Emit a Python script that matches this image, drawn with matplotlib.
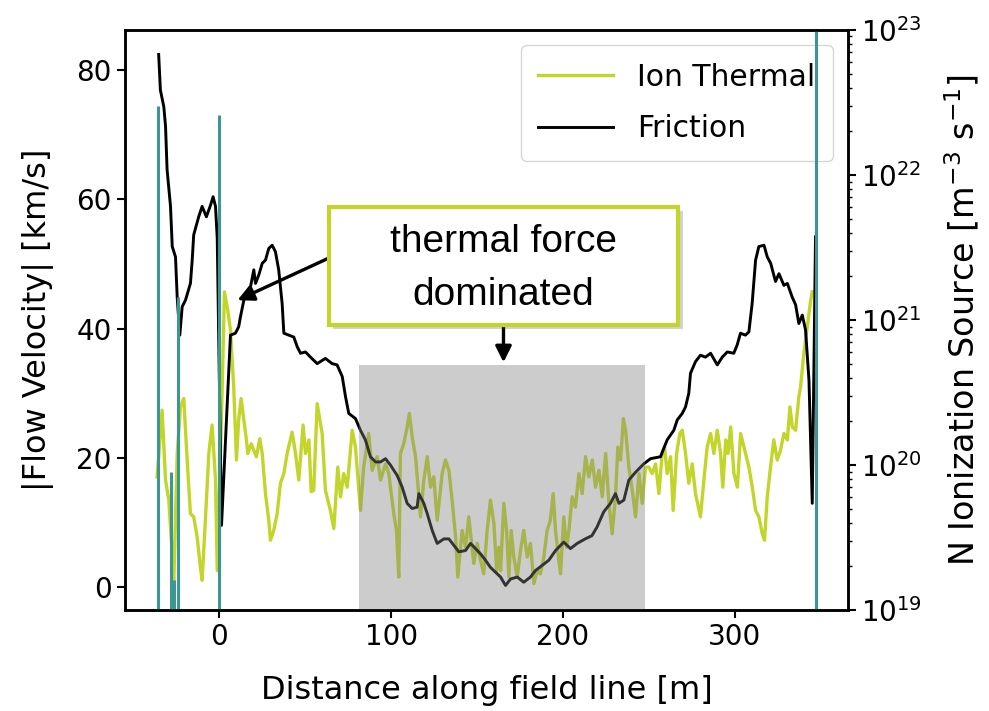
import matplotlib
matplotlib.use('Agg')
import matplotlib.pyplot as plt
import matplotlib.patheffects as pe
from matplotlib.patches import Rectangle

# Ion thermal flow velocity [km/s] vs distance [m]
ion_x = [-36.3, -33.4, -31.4, -29.5, -27.5, -26.6, -24.6, -22.7, -20.8, -18.8,
         -16.9, -15.0, -13.0, -11.1, -10.1, -8.2, -6.2, -4.3, -2.3, -1.3,
         1.6, 2.9, 4.8, 6.4, 8.3, 9.9, 11.2, 12.6, 14.2, 15.7,
         16.5, 18.5, 20.0, 21.5, 23.5, 24.9, 26.8, 28.7, 29.7, 31.6,
         33.6, 35.5, 37.5, 39.4, 42.3, 44.3, 46.2, 48.7, 50.1, 52.1,
         53.4, 54.9, 56.9, 59.8, 61.7, 64.6, 66.6, 68.9, 70.5, 72.4,
         74.4, 77.3, 79.2, 82.1, 84.0, 86.9, 88.9, 91.8, 93.8, 96.7,
         98.6, 101.5, 103.1, 104.4, 105.4, 107.3, 109.3, 110.6, 112.2, 114.2,
         115.5, 117.1, 119.0, 121.0, 122.9, 124.8, 126.8, 129.7, 131.6, 133.6,
         135.5, 137.5, 138.8, 141.3, 143.3, 145.2, 148.1, 150.1, 152.0, 153.9,
         155.9, 157.8, 159.8, 161.4, 162.7, 163.7, 165.6, 167.2, 168.5, 169.9,
         171.4, 173.4, 175.3, 177.2, 179.2, 181.1, 183.1, 185.0, 186.9, 188.9,
         190.8, 192.7, 194.3, 195.7, 197.6, 198.6, 200.5, 202.1, 203.5, 205.4,
         207.3, 209.3, 211.2, 213.2, 215.1, 217.1, 219.0, 221.0, 222.9, 224.9,
         226.8, 228.7, 230.6, 232.0, 233.6, 235.2, 236.5, 238.4, 240.4, 242.3,
         244.3, 246.2, 248.1, 250.0, 252.0, 254.0, 255.9, 257.8, 259.2, 260.7,
         262.7, 264.2, 266.2, 268.1, 269.5, 271.4, 273.3, 275.3, 277.2, 280.1,
         282.1, 284.0, 286.0, 287.9, 289.9, 291.8, 293.1, 294.8, 296.2, 297.7,
         299.6, 301.6, 303.5, 306.4, 308.3, 310.3, 312.2, 314.1, 316.1, 317.4,
         319.0, 320.9, 322.8, 324.8, 326.7, 328.7, 330.7, 332.2, 333.6, 335.5,
         337.4, 338.4, 340.3, 342.3, 344.3, 345.2]
ion_v = [17.1, 27.4, 16.6, 13.5, 5.2, 0.6, 20.7, 27.9, 29.2, 19.7,
         11.4, 10.9, 7.8, 3.1, 1.1, 10.4, 20.7, 25.1, 16.6, 2.6,
         31.0, 45.7, 42.9, 39.8, 31.0, 19.7, 25.9, 29.2, 25.9, 22.8,
         20.7, 22.2, 21.2, 20.2, 23.0, 20.7, 14.5, 10.4, 7.3, 8.8,
         11.4, 16.1, 17.6, 20.7, 24.0, 20.7, 16.6, 25.1, 20.7, 22.8,
         14.8, 15.0, 28.4, 23.8, 15.0, 11.9, 9.1, 18.6, 14.0, 17.6,
         15.5, 24.3, 21.7, 11.9, 18.6, 23.8, 18.1, 20.2, 16.6, 19.1,
         17.6, 11.4, 8.8, 1.6, 20.7, 22.2, 24.8, 26.9, 23.3, 20.2,
         16.1, 10.9, 16.6, 20.2, 15.5, 17.1, 10.4, 17.6, 19.7, 18.1,
         13.5, 7.8, 1.6, 8.8, 6.2, 10.9, 3.7, 6.8, 4.2, 2.1,
         8.8, 13.5, 9.9, 2.6, 6.2, 2.6, 13.0, 8.8, 1.6, 8.8,
         4.7, 1.6, 5.7, 8.8, 4.7, 6.8, 0.6, 2.6, 2.1, 4.7,
         8.8, 10.4, 14.5, 8.8, 4.2, 2.1, 10.9, 6.2, 8.8, 14.0,
         12.4, 17.6, 14.5, 20.2, 17.1, 19.7, 15.5, 18.1, 14.0, 20.7,
         13.0, 8.3, 14.0, 21.7, 19.7, 26.1, 24.3, 18.6, 15.0, 10.9,
         17.6, 13.0, 18.6, 18.6, 17.6, 19.1, 14.5, 20.7, 21.7, 17.6,
         20.2, 11.9, 20.7, 23.8, 24.3, 20.7, 16.1, 19.1, 14.5, 10.9,
         16.6, 21.7, 23.8, 20.7, 24.3, 20.7, 15.5, 22.8, 20.7, 24.8,
         17.6, 15.5, 23.8, 20.7, 18.6, 15.5, 11.9, 10.9, 8.3, 7.3,
         14.0, 18.6, 22.8, 19.7, 21.2, 23.8, 22.8, 27.9, 24.8, 24.3,
         29.5, 31.0, 36.2, 40.3, 44.4, 45.7]

# Friction flow velocity [km/s] vs distance [m]
fric_x = [-35.4, -34.4, -32.4, -31.4, -30.5, -28.5, -27.5, -25.6, -24.6, -23.1,
          -21.7, -19.8, -16.9, -15.9, -15.0, -12.1, -10.1, -7.6, -5.2, -3.7,
          -2.3, -1.3, 1.2, 6.4, 9.3, 11.2, 12.2, 14.2, 16.1, 18.1,
          20.0, 21.0, 22.9, 24.9, 26.8, 28.7, 30.7, 32.6, 34.5, 36.5,
          37.5, 40.4, 43.3, 45.3, 47.2, 50.1, 53.0, 56.9, 61.7, 65.6,
          68.5, 71.5, 73.4, 75.3, 79.2, 82.1, 85.0, 87.9, 90.9, 93.8,
          96.7, 99.6, 103.5, 106.4, 109.3, 112.2, 115.1, 116.1, 119.0, 121.0,
          123.9, 126.8, 130.7, 133.6, 136.5, 139.4, 143.3, 146.2, 149.1, 152.0,
          154.9, 157.8, 163.7, 166.6, 169.5, 173.4, 177.2, 181.1, 184.0, 187.9,
          191.8, 195.7, 200.5, 204.4, 208.3, 213.0, 216.9, 219.8, 223.8, 227.7,
          230.6, 232.6, 235.5, 238.4, 242.3, 247.1, 251.0, 256.8, 260.7, 264.6,
          266.6, 269.5, 271.4, 273.3, 274.3, 277.2, 280.1, 283.0, 286.0, 289.9,
          292.8, 295.7, 299.5, 301.5, 303.4, 306.3, 308.3, 310.2, 312.2, 314.1,
          317.1, 319.0, 321.0, 323.8, 325.8, 328.7, 330.7, 333.5, 335.5, 337.4,
          339.4, 341.3, 343.3, 345.2, 347.1]
fric_v = [82.4, 76.9, 74.3, 71.3, 64.6, 58.9, 52.7, 51.1, 44.8, 39.0,
          43.4, 44.4, 47.0, 50.5, 54.5, 57.3, 58.9, 57.3, 59.1, 60.4,
          58.9, 54.0, 9.6, 39.0, 39.3, 40.3, 41.8, 44.4, 45.5, 46.5,
          49.1, 47.0, 48.3, 50.1, 50.6, 52.4, 52.9, 51.9, 49.1, 43.9,
          39.3, 39.0, 38.7, 37.2, 36.2, 36.4, 35.6, 34.6, 35.4, 34.6,
          34.4, 32.6, 29.5, 26.9, 26.1, 24.3, 22.8, 20.2, 19.4, 19.4,
          19.9, 18.9, 17.3, 15.5, 13.0, 12.2, 12.4, 14.5, 13.0, 11.4,
          8.8, 6.8, 7.5, 7.5, 6.5, 5.5, 5.7, 6.8, 6.0, 5.2,
          4.2, 3.1, 1.6, 0.3, 1.3, 1.6, 0.8, 1.6, 2.6, 3.4,
          4.2, 5.7, 7.0, 6.0, 6.8, 7.5, 8.0, 9.3, 11.7, 13.0,
          14.5, 13.0, 13.5, 16.6, 17.8, 19.1, 19.9, 20.2, 22.8, 24.3,
          25.9, 26.9, 27.9, 30.0, 33.1, 34.9, 35.9, 35.6, 36.2, 34.4,
          35.6, 36.4, 36.2, 37.5, 39.3, 39.0, 39.5, 43.9, 50.6, 52.7,
          52.9, 51.1, 50.1, 47.3, 48.5, 46.7, 47.0, 44.9, 43.7, 40.8,
          42.1, 39.8, 32.0, 13.0, 54.2]

# N ionization source spikes [m^-3 s^-1]
src_x = [-35.5, -28.5, -26.6, -24.3, -0.4, 347.1]
src_v = [3.0e22, 9.0e19, 1.6e19, 1.45e21, 2.6e22, 2.0e23]

# shaded region and annotation (data coordinates)
shade_x = [81.5, 248.0]
shade_top = 34.4
note_text = 'thermal force\ndominated'
note_box = [63.5, 40.6, 267.3, 58.8]   # x0, y0, x1, y1

lime = '#c2d52b'
teal = '#3d9690'

plt.rcParams['font.family'] = ['DejaVu Sans']
fig = plt.figure(figsize=(9.89, 7.11), dpi=100)
ax = fig.add_axes([0.1264, 0.142, 0.731, 0.816])
ax2 = ax.twinx()

ax.plot(ion_x, ion_v, color=lime, lw=2.4, label='Ion Thermal', zorder=2)
ax.plot(fric_x, fric_v, color='black', lw=2.1, label='Friction', zorder=3)
ax.add_patch(Rectangle((shade_x[0], -3.5), shade_x[1] - shade_x[0], shade_top + 3.5,
                       facecolor='gray', alpha=0.4, edgecolor='none', zorder=4))

ax2.vlines(src_x, 1e17, src_v, color=teal, lw=2.2)
ax2.set_yscale('log')
ax2.set_ylim(1e19, 1e23)

ax.set_xlim(-55, 366)
ax.set_ylim(-3.5, 86.2)
ax.set_xticks([0, 100, 200, 300])
ax.set_yticks([0, 20, 40, 60, 80])
ax.set_xlabel('Distance along field line [m]', fontsize=23, labelpad=17)
ax.set_ylabel('|Flow Velocity| [km/s]', fontsize=23, labelpad=16)
ax2.set_ylabel('N Ionization Source [m$^{-3}$ s$^{-1}$]', fontsize=24, labelpad=15)

for a in (ax, ax2):
    for s in a.spines.values():
        s.set_linewidth(1.8)
    a.tick_params(which='major', labelsize=20, length=6, width=1.5)
    a.tick_params(which='minor', length=3, width=1.0)

leg = ax.legend(loc='upper right', fontsize=21.5, handlelength=2.5,
                borderpad=0.6, labelspacing=0.75, borderaxespad=0.5,
                fancybox=True, framealpha=0.8)

# annotation box with drop shadow
box = Rectangle((note_box[0], note_box[1]), note_box[2] - note_box[0],
                note_box[3] - note_box[1], facecolor='white', edgecolor=lime,
                linewidth=3, zorder=6)
box.set_path_effects([pe.SimplePatchShadow(offset=(3, -3), alpha=0.25), pe.Normal()])
ax.add_patch(box)
ax.text((note_box[0] + note_box[2]) / 2, 49.3, note_text, ha='center', va='center',
        fontsize=28, family='Liberation Sans', linespacing=1.6, zorder=7)

ax.annotate('', xy=(10.5, 44.4), xytext=(note_box[0], 50.9),
            arrowprops=dict(arrowstyle='-|>', color='black', lw=2.4,
                            mutation_scale=24, shrinkA=0, shrinkB=0), zorder=5)
ax.annotate('', xy=(165.4, 34.8), xytext=(165.4, note_box[1]),
            arrowprops=dict(arrowstyle='-|>', color='black', lw=2.4,
                            mutation_scale=24, shrinkA=0, shrinkB=0), zorder=5)

fig.savefig('out.png', dpi=100)
